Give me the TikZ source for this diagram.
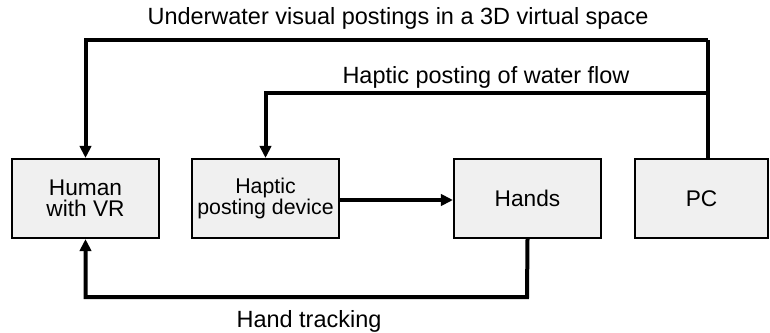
\documentclass[tikz,border=0pt]{standalone}
\usepackage{fontspec}
\setmainfont{Liberation Sans}
\usetikzlibrary{arrows.meta,calc}
\begin{document}
\begin{tikzpicture}[x=0.75pt,y=-0.75pt,
  blk/.style={draw=black,line width=1.6pt,fill=black!6,minimum width=147*0.75pt,minimum height=79*0.75pt,inner sep=0pt,align=center,font=\fontsize{17}{15.8}\selectfont},
  conn/.style={line width=3pt,-{Triangle[length=9pt,width=8.5pt]}},
  lbl/.style={font=\fontsize{17.6}{18}\selectfont,inner sep=0pt}]
\useasboundingbox (0,0) rectangle (770,332);
\node[blk] (human) at (85.5,198.5) {Human\\with VR};
\node[blk,font=\fontsize{16}{13.5}\selectfont] (haptic) at (265.5,198.5) {Haptic\\posting device};
\node[blk] (hands) at (527.5,198.5) {Hands};
\node[blk,minimum width=133*0.75pt] (pc) at (701.5,198.5) {PC};
\coordinate (pcout) at (708,159);
\coordinate (t1) at (708,40);
\coordinate (t2) at (708,93);
\coordinate (b1) at (527,297);
\draw[line width=3pt] (pcout) -- (t1);
\draw[conn] (t1) -- (t1 -| human.north) -- (human.north);
\draw[conn] (t2) -- (t2 -| haptic.north) -- (haptic.north);
\draw[conn] (haptic.east |- 0,200) -- (hands.west |- 0,200);
\draw[conn] (hands.south) -- (b1) -- (b1 -| human.south) -- (human.south);
\node[lbl] (l1) at (398,18) {Underwater visual postings in a 3D virtual space};
\node[lbl] (l2) at (486,77) {Haptic posting of water flow};
\node[lbl] (l3) at (309,321) {Hand tracking};
\end{tikzpicture}
\end{document}
